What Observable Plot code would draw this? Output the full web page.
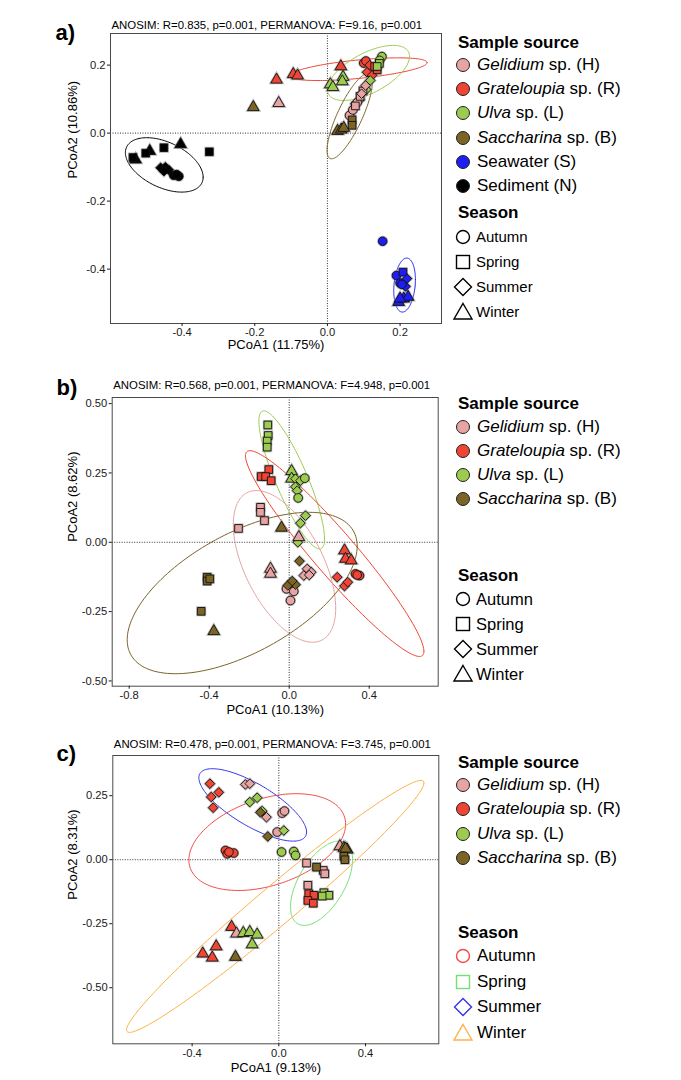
<!DOCTYPE html>
<html><head><meta charset="utf-8">
<script src="https://cdn.jsdelivr.net/npm/d3@7"></script>
<script src="https://cdn.jsdelivr.net/npm/@observablehq/plot@0.6"></script>
<style>
body{margin:0;background:#fff;font-family:"Liberation Sans",Arial,Helvetica,sans-serif;}
#wrap{position:relative;width:681px;height:1080px;overflow:hidden;background:#fff}
.lg{position:absolute;display:flex;align-items:center;white-space:nowrap;color:#000;height:22px;}
.lg svg{flex:none;overflow:visible}
</style></head><body><div id="wrap"></div><script>
// ---------- categories ----------
const sources = ["H","R","L","B","S","N"];
const sourceItalic = ["Gelidium","Grateloupia","Ulva","Saccharina","",""];
const sourceRest = [" sp. (H)"," sp. (R)"," sp. (L)"," sp. (B)","Seawater (S)","Sediment (N)"];
const sourceColors = ["#E8A3A3","#EF4535","#9CCB4F","#7B6426","#1E1EF2","#000000"];
const seasons = ["Autumn","Spring","Summer","Winter"];
const seasonSymbols = ["circle","square","diamond2","triangle"];
const seasonColors = ["#F44A4A","#72E072","#3333EE","#FFB04A"];

// ---------- panel texts ----------
const panelTags = ["a)","b)","c)"];
const panelStats = [
  "ANOSIM: R=0.835, p=0.001, PERMANOVA: F=9.16, p=0.001",
  "ANOSIM: R=0.568, p=0.001, PERMANOVA: F=4.948, p=0.001",
  "ANOSIM: R=0.478, p=0.001, PERMANOVA: F=3.745, p=0.001"];
const xLabels = ["PCoA1 (11.75%)","PCoA1 (10.13%)","PCoA1 (9.13%)"];
const yLabels = ["PCoA2 (10.86%)","PCoA2 (8.62%)","PCoA2 (8.31%)"];
const xTicksA = [-0.4,-0.2,0,0.2], yTicksA = [-0.4,-0.2,0,0.2];
const xTicksB = [-0.8,-0.4,0,0.4], yTicksB = [-0.5,-0.25,0,0.25,0.5];
const xTicksC = [-0.4,0,0.4], yTicksC = [-0.5,-0.25,0,0.25];

// ---------- points: [source, season, PCoA1, PCoA2] ----------
const pointsA = [
 ["R","Winter",0.037,0.196],["R","Winter",-0.140,0.157],["R","Winter",-0.094,0.173],["R","Winter",-0.082,0.169],
 ["R","Autumn",0.100,0.206],["R","Autumn",0.106,0.212],["R","Summer",0.116,0.200],["R","Summer",0.109,0.179],
 ["R","Summer",0.123,0.170],["R","Spring",0.137,0.186],["R","Spring",0.130,0.196],
 ["L","Winter",0.008,0.143],["L","Winter",0.015,0.135],["L","Winter",0.043,0.165],["L","Winter",0.041,0.152],
 ["L","Autumn",0.150,0.225],["L","Autumn",0.144,0.214],["L","Spring",0.143,0.205],["L","Spring",0.137,0.196],
 ["L","Summer",0.118,0.155],["L","Summer",0.107,0.128],["L","Summer",0.089,0.098],["L","Summer",0.077,0.086],
 ["H","Autumn",0.061,0.052],["H","Autumn",0.070,0.068],["H","Autumn",0.082,0.090],["H","Spring",0.077,0.080],
 ["H","Spring",0.090,0.108],["H","Spring",0.098,0.124],["H","Summer",0.094,0.116],["H","Summer",0.105,0.140],
 ["H","Winter",-0.134,0.088],
 ["B","Winter",-0.204,0.076],["B","Winter",0.028,0.006],["B","Winter",0.038,0.010],["B","Winter",0.045,0.015],
 ["B","Spring",0.068,0.039],["B","Spring",0.068,0.023],
 ["N","Winter",-0.528,-0.078],["N","Spring",-0.535,-0.072],["N","Winter",-0.489,-0.053],["N","Spring",-0.500,-0.059],
 ["N","Spring",-0.450,-0.043],["N","Winter",-0.404,-0.033],["N","Spring",-0.325,-0.055],["N","Summer",-0.459,-0.102],
 ["N","Summer",-0.446,-0.100],["N","Summer",-0.437,-0.108],["N","Summer",-0.450,-0.112],["N","Autumn",-0.423,-0.124],
 ["N","Autumn",-0.409,-0.127],["N","Autumn",-0.415,-0.122],
 ["S","Autumn",0.152,-0.318],["S","Autumn",0.190,-0.419],["S","Spring",0.208,-0.409],["S","Summer",0.219,-0.428],
 ["S","Summer",0.215,-0.451],["S","Autumn",0.200,-0.441],["S","Autumn",0.205,-0.445],["S","Winter",0.196,-0.497],
 ["S","Winter",0.210,-0.487],["S","Winter",0.222,-0.482],["S","Winter",0.200,-0.487]
];
const pointsB = [
 ["L","Spring",-0.107,0.423],["L","Spring",-0.105,0.385],["L","Spring",-0.110,0.365],["L","Spring",-0.110,0.343],
 ["L","Winter",0.012,0.256],["L","Winter",0.012,0.229],["L","Summer",0.031,0.229],["L","Summer",0.056,0.222],
 ["L","Autumn",0.078,0.231],["L","Summer",0.031,0.200],["L","Summer",0.040,0.186],["L","Autumn",0.045,0.160],
 ["L","Summer",0.0815,0.096],["L","Summer",0.056,0.069],["L","Summer",0.043,0.000],
 ["R","Spring",-0.102,0.262],["R","Spring",-0.140,0.237],["R","Spring",-0.118,0.237],["R","Spring",-0.090,0.222],
 ["R","Winter",0.2765,-0.030],["R","Winter",0.2815,-0.060],["R","Winter",0.310,-0.066],
 ["R","Autumn",0.3315,-0.114],["R","Autumn",0.3515,-0.120],["R","Autumn",0.340,-0.118],
 ["R","Summer",0.240,-0.126],["R","Summer",0.2765,-0.158],["R","Summer",0.293,-0.144],
 ["H","Spring",-0.1435,0.126],["H","Spring",-0.1435,0.108],["H","Spring",-0.1235,0.078],["H","Spring",-0.2535,0.050],
 ["H","Winter",-0.0935,-0.096],["H","Winter",-0.0935,-0.114],["H","Winter",0.048,0.018],
 ["H","Summer",0.090,-0.096],["H","Summer",0.110,-0.108],["H","Summer",0.073,-0.120],["H","Summer",0.100,-0.118],
 ["H","Autumn",-0.0135,-0.168],["H","Autumn",0.023,-0.177],["H","Autumn",0.0065,-0.210],
 ["B","Winter",-0.0385,0.052],["B","Winter",-0.377,-0.321],["B","Summer",0.0515,-0.068],
 ["B","Summer",0.0065,-0.148],["B","Summer",0.0315,-0.153],["B","Summer",-0.007,-0.156],["B","Summer",0.015,-0.140],
 ["B","Spring",-0.410,-0.126],["B","Spring",-0.410,-0.140],["B","Spring",-0.397,-0.132],["B","Spring",-0.440,-0.249]
];
const pointsC = [
 ["R","Summer",-0.318,0.297],["R","Summer",-0.277,0.263],["R","Summer",-0.312,0.245],["R","Summer",-0.303,0.203],
 ["R","Autumn",-0.246,0.036],["R","Autumn",-0.238,0.023],["R","Autumn",-0.208,0.026],["R","Autumn",-0.230,0.030],
 ["R","Spring",0.138,-0.133],["R","Spring",0.162,-0.139],["R","Spring",0.134,-0.159],["R","Spring",0.159,-0.170],
 ["R","Winter",-0.218,-0.263],["R","Winter",-0.289,-0.339],["R","Winter",-0.351,-0.367],["R","Winter",-0.307,-0.383],
 ["H","Summer",-0.154,0.294],["H","Summer",-0.134,0.297],["H","Summer",-0.057,0.166],
 ["H","Autumn",0.0155,0.182],["H","Autumn",0.026,0.190],["H","Autumn",-0.0075,0.108],
 ["H","Winter",0.2815,0.052],["H","Winter",-0.195,-0.289],
 ["H","Spring",0.128,-0.013],["H","Spring",0.205,-0.042],["H","Spring",0.212,-0.055],["H","Spring",0.134,-0.100],
 ["L","Summer",-0.134,0.225],["L","Summer",-0.100,0.242],["L","Summer",-0.077,0.190],["L","Summer",0.023,0.114],
 ["L","Autumn",0.0125,0.030],["L","Autumn",0.069,0.032],["L","Autumn",0.077,0.017],
 ["L","Spring",0.208,-0.129],["L","Spring",0.231,-0.139],["L","Spring",0.200,-0.142],
 ["L","Winter",-0.164,-0.287],["L","Winter",-0.134,-0.283],["L","Winter",-0.100,-0.293],["L","Winter",-0.123,-0.331],
 ["B","Summer",-0.085,0.185],["B","Summer",-0.051,0.091],
 ["B","Winter",0.3155,0.039],["B","Winter",0.300,0.046],["B","Winter",0.308,0.043],
 ["B","Spring",0.300,0.013],["B","Spring",0.305,0.000],["B","Spring",0.174,-0.029],["B","Winter",-0.200,-0.380]
];

// ---------- 95% ellipses: [group, centre x, centre y, x half-extent, y half-extent, correlation] ----------
const ellipsesA = [
 ["N",-0.449,-0.0935,0.107,0.080,-0.45],["S",0.2124,-0.447,0.0298,0.0794,0.2],
 ["R",0.0853,0.188,0.189,0.0334,0.58],["L",0.113,0.177,0.113,0.081,0.6],
 ["H",0.0985,0.121,0.0336,0.063,0.9],["B",0.0614,0.05,0.0624,0.1255,0.8]];
const ellipsesB = [
 ["L",0.0125,0.225,0.164,0.249,-0.85],["R",0.2275,-0.0408,0.446,0.371,-0.95],
 ["H",-0.0235,-0.087,0.256,0.2735,-0.55],["B",-0.235,-0.183,0.575,0.291,0.58]];
const ellipsesC = [
 ["Summer",-0.1205,0.214,0.2485,0.1414,-0.75],["Autumn",-0.0535,0.0688,0.3616,0.189,0.37],
 ["Spring",0.197,-0.092,0.143,0.1646,0.56],["Winter",-0.0166,-0.1824,0.686,0.492,0.98]];

// ---------- build ----------
const wrap = document.getElementById("wrap");
const toRows = a => a.map(([src,season,x,y]) => ({src,season,x,y}));
function ellipsePath(list){
  const out=[];
  list.forEach(([g,cx,cy,sx,sy,r])=>{
    const k=Math.sqrt(1-r*r);
    for(let i=0;i<=160;i++){const t=i/160*2*Math.PI;
      out.push({g,x:cx+sx*Math.cos(t),y:cy+sy*(r*Math.cos(t)+k*Math.sin(t))});}
  });
  return out;
}
function panel(cfg){
  const rows = toRows(cfg.pts);
  const svg = Plot.plot({
    width:681, height:cfg.height,
    marginTop:cfg.mt, marginBottom:cfg.mb, marginLeft:cfg.ml, marginRight:cfg.mr,
    style:{fontFamily:"'Liberation Sans',Arial,Helvetica,sans-serif",fontSize:"11.2px",color:"#1a1a1a",background:"transparent"},
    x:{domain:cfg.xd}, y:{domain:cfg.yd},
    color:{domain:[...sources,...seasons], range:[...sourceColors,...seasonColors]},
    symbol:{domain:seasons, range:seasonSymbols},
    marks:[
      Plot.ruleX([0],{stroke:"#333",strokeWidth:1,strokeDasharray:"1,1.5"}),
      Plot.ruleY([0],{stroke:"#333",strokeWidth:1,strokeDasharray:"1,1.5"}),
      Plot.line(ellipsePath(cfg.ells),{x:"x",y:"y",z:"g",stroke:"g",strokeWidth:1}),
      Plot.dot(rows,{x:"x",y:"y",fill:"src",symbol:"season",r:4.3,stroke:"#9a9a9a",strokeWidth:2.4,strokeOpacity:0.7}),
      Plot.dot(rows,{x:"x",y:"y",fill:"src",symbol:"season",r:4.3,stroke:"#111",strokeWidth:0.9}),
      Plot.frame({stroke:"#4a4a4a",strokeWidth:1}),
      Plot.axisX({ticks:cfg.xt,tickFormat:d=>d.toFixed(1),tickSize:3,tickPadding:2,label:null}),
      Plot.axisY({ticks:cfg.yt,tickFormat:d=>d.toFixed(cfg.yfmt),tickSize:3,tickPadding:2,label:null}),
      Plot.text([cfg.tag],{text:d=>d,frameAnchor:"top-left",dx:cfg.tagDx,dy:cfg.tagDy,textAnchor:"start",lineAnchor:"bottom",fontSize:22,fontWeight:"bold",fill:"#000"}),
      Plot.text([cfg.stat],{text:d=>d,frameAnchor:"top-left",dx:1,dy:cfg.statDy,textAnchor:"start",lineAnchor:"bottom",fontSize:11.4,fill:"#000"}),
      Plot.text([cfg.xl],{text:d=>d,frameAnchor:"bottom",dy:cfg.xlDy,lineAnchor:"bottom",fontSize:13,fill:"#000"}),
      Plot.text([cfg.yl],{text:d=>d,frameAnchor:"left",dx:cfg.ylDx,rotate:-90,lineAnchor:"middle",fontSize:13,fill:"#000"})
    ]
  });
  svg.style.position="absolute"; svg.style.left="0px"; svg.style.top=cfg.top+"px";
  wrap.appendChild(svg);
}
panel({top:0,height:360,mt:33,mb:37,ml:110,mr:240,xd:[-0.597,0.314],yd:[-0.56,0.293],xt:xTicksA,yt:yTicksA,yfmt:1,
  pts:pointsA,ells:ellipsesA,tag:panelTags[0],stat:panelStats[0],xl:xLabels[0],yl:yLabels[0],tagDx:-55,tagDy:6,statDy:-5,xlDy:25,ylDx:-38});
panel({top:360,height:360,mt:37,mb:34.3,ml:111.7,mr:243.3,xd:[-0.885,0.745],yd:[-0.519,0.522],xt:xTicksB,yt:yTicksB,yfmt:2,
  pts:pointsB,ells:ellipsesB,tag:panelTags[1],stat:panelStats[1],xl:xLabels[1],yl:yLabels[1],tagDx:-55.7,tagDy:-3,statDy:-9,xlDy:28,ylDx:-39.7});
panel({top:720,height:360,mt:35,mb:36.7,ml:112.3,mr:242.7,xd:[-0.766,0.738],yd:[-0.719,0.407],xt:xTicksC,yt:yTicksC,yfmt:2,
  pts:pointsC,ells:ellipsesC,tag:panelTags[2],stat:panelStats[2],xl:xLabels[2],yl:yLabels[2],tagDx:-56.3,tagDy:5,statDy:-7.7,xlDy:27.7,ylDx:-40.3});

// ---------- legends ----------
function keySvg(shape, fill, stroke, sw){
  const s=20, c=10; let el;
  if(shape==="circle") el=`<circle cx="${c}" cy="${c}" r="6.5" fill="${fill}" stroke="${stroke}" stroke-width="${sw}"/>`;
  else if(shape==="square") el=`<rect x="${c-6.5}" y="${c-6.5}" width="13" height="13" fill="${fill}" stroke="${stroke}" stroke-width="${sw}"/>`;
  else if(shape==="diamond2") el=`<polygon points="${c},${c-8.5} ${c+8.5},${c} ${c},${c+8.5} ${c-8.5},${c}" fill="${fill}" stroke="${stroke}" stroke-width="${sw}"/>`;
  else el=`<polygon points="${c},${c-8.5} ${c+9},${c+7} ${c-9},${c+7}" fill="${fill}" stroke="${stroke}" stroke-width="${sw}"/>`;
  return `<svg width="${s}" height="${s}">${el}</svg>`;
}
function row(html, x, yc, fs){
  const d=document.createElement("div"); d.className="lg";
  d.style.left=x+"px"; d.style.top=(yc-11)+"px"; d.style.fontSize=fs+"px"; d.innerHTML=html; wrap.appendChild(d);
}
function legend(c){
  row(`<b>Sample source</b>`, 458, c.st, 17);
  for(let i=0;i<c.n;i++){
    const lab = (sourceItalic[i]?`<i>${sourceItalic[i]}</i>`:"") + sourceRest[i];
    row(keySvg("circle",sourceColors[i],"#222",1)+`<span style="margin-left:4px">${lab}</span>`, 453, c.s0+i*c.ss, 17);
  }
  row(`<b>Season</b>`, 458, c.tt, 17);
  seasons.forEach((s,i)=>{
    const col = c.colored?seasonColors[i]:"#000";
    row(keySvg(seasonSymbols[i],"none",col,1.4)+`<span style="margin-left:${c.gap}px">${s}</span>`, 453, c.t0+i*c.ts, c.fs);
  });
}
legend({n:6,st:42.7,s0:65,ss:24.2,tt:213.3,t0:236.7,ts:25,colored:false,fs:15,gap:3});
legend({n:4,st:404,s0:427,ss:24,tt:576,t0:599,ts:25,colored:false,fs:16.5,gap:3});
legend({n:4,st:763,s0:785,ss:24.3,tt:933.3,t0:956,ts:25.5,colored:true,fs:17,gap:4});
</script></body></html>
